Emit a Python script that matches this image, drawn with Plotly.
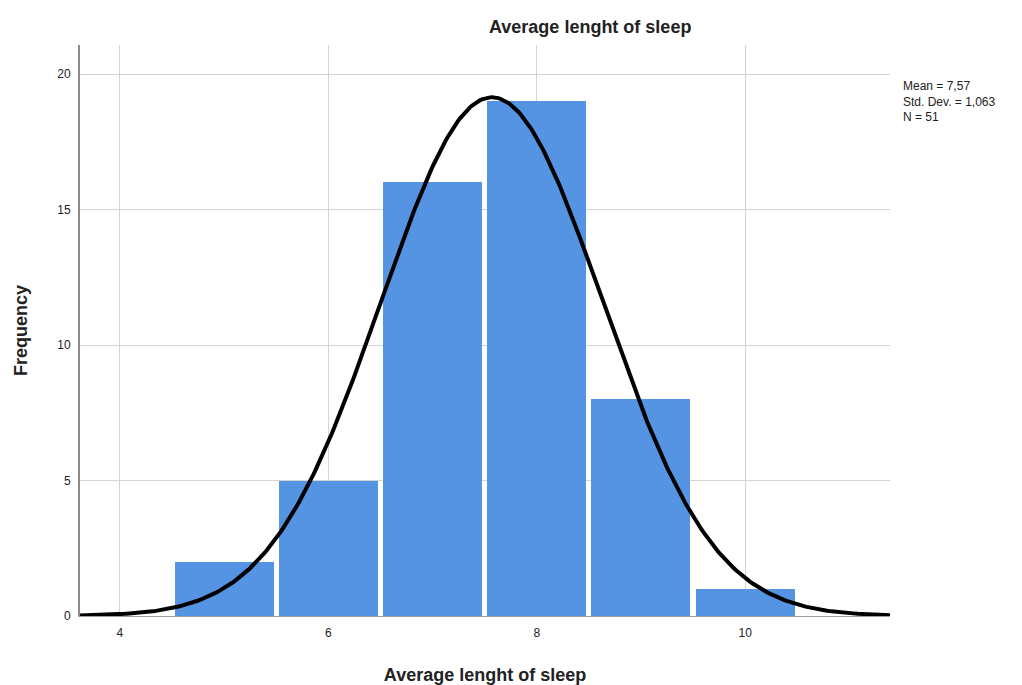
import numpy as np
import plotly.graph_objects as go

# ── Histogram data ────────────────────────────────────────────────
bin_centers = [5, 6, 7, 8, 9, 10]
frequencies = [2, 5, 16, 19, 8, 1]
bin_width = 1.0

# Summary statistics shown on the chart
mean = 7.57
std_dev = 1.063
n_obs = 51

x_ticks = [4, 6, 8, 10]
y_ticks = [0, 5, 10, 15, 20]

# Normal curve scaled to counts (N * bin width)
x_range = [3.617, 11.39]
curve_x = np.linspace(x_range[0], x_range[1], 400)
curve_y = n_obs * bin_width * np.exp(-0.5 * ((curve_x - mean) / std_dev) ** 2) / (std_dev * np.sqrt(2 * np.pi))

BAR = "#5593e3"
GRID = "#d4d4d4"
TXT = "#222222"

fig = go.Figure()
fig.add_trace(go.Bar(
    x=bin_centers,
    y=frequencies,
    width=0.95,
    marker=dict(color=BAR, line=dict(width=0)),
    showlegend=False,
))
fig.add_trace(go.Scatter(
    x=curve_x,
    y=curve_y,
    mode="lines",
    line=dict(color="black", width=4),
    showlegend=False,
))

# page body has an 8px margin, so margins are offset to compensate
fig.update_layout(
    width=1022, height=685,
    margin=dict(l=70, r=140, t=37, b=74),
    paper_bgcolor="white",
    plot_bgcolor="white",
    font=dict(family="Arial, Liberation Sans, sans-serif", color=TXT, size=12),
    bargap=0,
    annotations=[
        dict(
            text="<b>Average lenght of sleep</b>",
            xref="paper", yref="paper", x=0.63, y=1.0, yshift=6,
            xanchor="center", yanchor="bottom", showarrow=False,
            font=dict(size=18, family="Arial, Liberation Sans, sans-serif", color=TXT),
        ),
        dict(
            text="Mean = 7,57<br>Std. Dev. = 1,063<br>N = 51",
            xref="paper", yref="paper", x=1.0, y=0.95, xshift=11, yshift=-3,
            xanchor="left", yanchor="top", align="left", showarrow=False,
            font=dict(size=12, family="Arial, Liberation Sans, sans-serif", color=TXT),
        ),
    ],
)
fig.update_xaxes(
    range=x_range,
    tickvals=x_ticks,
    ticks="",
    ticklabelstandoff=6,
    showgrid=True, gridcolor=GRID, gridwidth=1,
    zeroline=False,
    showline=True, linecolor="#a0a0a0", linewidth=1,
    tickfont=dict(size=12, color=TXT),
    title=dict(text="<b>Average lenght of sleep</b>", font=dict(size=18, color=TXT), standoff=28),
)
fig.update_yaxes(
    range=[0, 21.07],
    tickvals=y_ticks,
    ticks="",
    ticklabelstandoff=5,
    showgrid=True, gridcolor=GRID, gridwidth=1,
    zeroline=False,
    showline=True, linecolor="#8c8c8c", linewidth=2,
    tickfont=dict(size=12, color=TXT),
    title=dict(text="<b>Frequency</b>", font=dict(size=18, color=TXT), standoff=25),
)

fig.write_html("out.html")
